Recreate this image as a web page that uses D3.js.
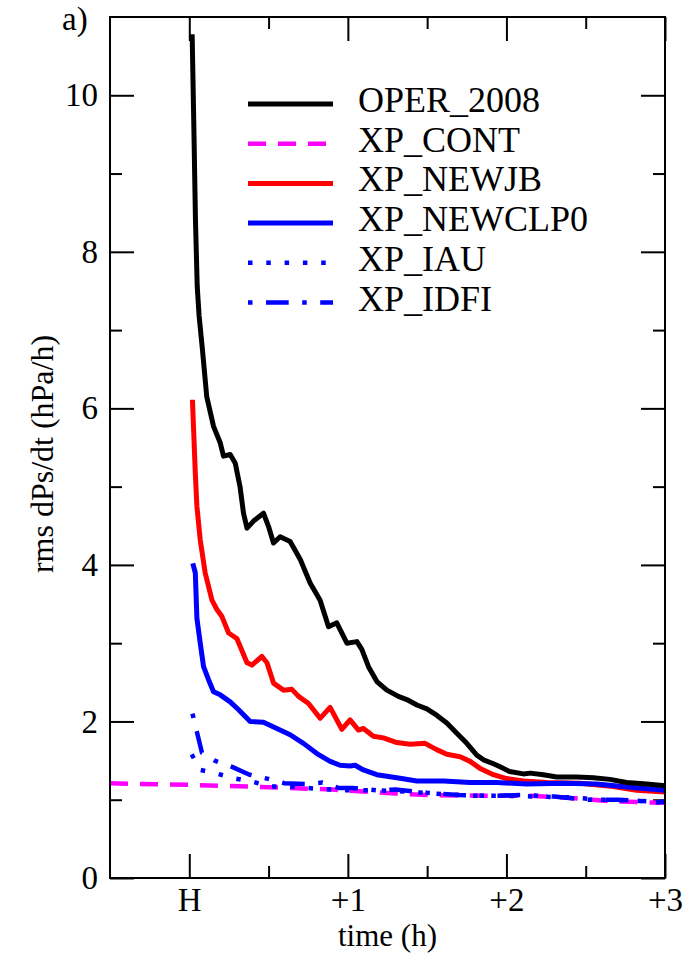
<!DOCTYPE html>
<html>
<head>
<meta charset="utf-8">
<script src="https://cdn.jsdelivr.net/npm/d3@7.9.0/dist/d3.min.js"></script>
<style>
  body { margin: 0; background: #fff; }
  svg { display: block; font-family: "Liberation Serif", "Times New Roman", serif; }
  .tick line { stroke: #000; stroke-width: 2; }
  .tick text { font-size: 33px; fill: #000; }
</style>
</head>
<body>
<svg id="chart" width="685" height="954"></svg>
<script>
// time in hours after the analysis (H = 0), rms dPs/dt in hPa/h
const operTime = [0.018, 0.028, 0.039, 0.05, 0.062, 0.083, 0.11, 0.153, 0.195, 0.216, 0.258, 0.29, 0.32, 0.342, 0.364, 0.405, 0.468, 0.5, 0.531, 0.573, 0.636, 0.70, 0.762, 0.825, 0.878, 0.93, 0.994, 1.057, 1.088, 1.13, 1.183, 1.246, 1.319, 1.372, 1.435, 1.498, 1.56, 1.624, 1.687, 1.75, 1.813, 1.855, 1.918, 1.96, 2.02, 2.107, 2.15, 2.233, 2.317, 2.443, 2.548, 2.653, 2.758, 2.884, 3.0];
const operRms  = [10.78, 9.69, 8.41, 7.56, 7.18, 6.75, 6.15, 5.77, 5.56, 5.39, 5.41, 5.30, 5.00, 4.66, 4.47, 4.56, 4.66, 4.49, 4.28, 4.36, 4.30, 4.07, 3.77, 3.55, 3.21, 3.26, 3.00, 3.02, 2.92, 2.70, 2.51, 2.40, 2.32, 2.28, 2.21, 2.16, 2.08, 1.98, 1.85, 1.72, 1.57, 1.51, 1.46, 1.42, 1.36, 1.33, 1.34, 1.32, 1.29, 1.29, 1.28, 1.26, 1.22, 1.20, 1.18];

const contTime = [-0.5, 0, 0.5, 0.9, 1.3, 1.5, 1.9, 2.15, 2.35, 2.67, 3.0];
const contRms  = [1.21, 1.19, 1.16, 1.13, 1.08, 1.06, 1.05, 1.05, 1.03, 0.98, 0.96];

const newjbTime = [0.02, 0.038, 0.048, 0.069, 0.1, 0.143, 0.174, 0.206, 0.248, 0.3, 0.364, 0.395, 0.458, 0.49, 0.531, 0.594, 0.647, 0.689, 0.752, 0.825, 0.888, 0.962, 1.014, 1.067, 1.098, 1.161, 1.224, 1.309, 1.393, 1.487, 1.56, 1.624, 1.708, 1.771, 1.834, 1.918, 2.0, 2.107, 2.254, 2.464, 2.674, 2.821, 3.0];
const newjbRms  = [6.11, 5.17, 4.75, 4.32, 3.90, 3.55, 3.43, 3.34, 3.13, 3.06, 2.75, 2.72, 2.83, 2.75, 2.49, 2.40, 2.41, 2.32, 2.23, 2.04, 2.18, 1.90, 2.02, 1.89, 1.91, 1.81, 1.79, 1.73, 1.71, 1.72, 1.64, 1.58, 1.55, 1.49, 1.40, 1.32, 1.27, 1.24, 1.22, 1.21, 1.17, 1.12, 1.10];

const newclpTime = [0.022, 0.038, 0.048, 0.069, 0.09, 0.122, 0.153, 0.195, 0.258, 0.311, 0.384, 0.468, 0.552, 0.636, 0.72, 0.805, 0.888, 0.951, 1.014, 1.046, 1.098, 1.183, 1.309, 1.435, 1.603, 1.771, 1.939, 2.128, 2.36, 2.57, 2.78, 3.0];
const newclpRms  = [4.02, 3.90, 3.32, 3.00, 2.70, 2.53, 2.38, 2.34, 2.25, 2.15, 2.00, 1.99, 1.91, 1.83, 1.72, 1.59, 1.49, 1.44, 1.43, 1.44, 1.38, 1.32, 1.28, 1.24, 1.24, 1.22, 1.22, 1.20, 1.21, 1.20, 1.16, 1.12];

const iauTime = [0.015, 0.07, 0.18, 0.29, 0.4, 0.51, 0.62, 0.74, 0.9, 1.0, 1.2, 1.4, 1.6, 1.8, 2.0, 2.2, 2.4, 2.6, 2.8, 3.0];
const iauRms  = [1.58, 1.38, 1.33, 1.27, 1.23, 1.17, 1.17, 1.15, 1.13, 1.12, 1.12, 1.10, 1.07, 1.05, 1.05, 1.04, 1.03, 1.00, 0.99, 0.96];

const idfiTime = [0.02, 0.05, 0.08, 0.16, 0.27, 0.38, 0.49, 0.6, 0.73, 0.84, 0.94, 1.03, 1.18, 1.3, 1.5, 1.7, 1.9, 2.1, 2.3, 2.5, 2.7, 2.9, 3.0];
const idfiRms  = [2.10, 1.85, 1.60, 1.50, 1.42, 1.32, 1.27, 1.21, 1.20, 1.22, 1.15, 1.15, 1.12, 1.13, 1.09, 1.06, 1.05, 1.06, 1.04, 1.00, 1.00, 0.98, 0.97];

const xMajor = [0, 1, 2, 3];
const xMajorLabels = ['H', '+1', '+2', '+3'];
const xMinor = [0.5, 1.5, 2.5];
const yMajor = [0, 2, 4, 6, 8, 10];
const yMinor = [1, 3, 5, 7, 9];

// series, in drawing order (black ends up on top)
const series = [
  { name: 'XP_CONT',    time: contTime,   rms: contRms,   color: '#ff00ff', width: 4.5, dash: '18,12' },
  { name: 'XP_NEWJB',   time: newjbTime,  rms: newjbRms,  color: '#ff0000', width: 5,   dash: null },
  { name: 'XP_IAU',     time: iauTime,    rms: iauRms,    color: '#0000ff', width: 4.5, dash: '4.5,13.8' },
  { name: 'XP_IDFI',    time: idfiTime,   rms: idfiRms,   color: '#0000ff', width: 4.5, dash: '4.5,13.5,22.7,13.5' },
  { name: 'XP_NEWCLP0', time: newclpTime, rms: newclpRms, color: '#0000ff', width: 5,   dash: null },
  { name: 'OPER_2008',  time: operTime,   rms: operRms,   color: '#000000', width: 5,   dash: null }
];
const legendOrder = ['OPER_2008', 'XP_CONT', 'XP_NEWJB', 'XP_NEWCLP0', 'XP_IAU', 'XP_IDFI'];

const svg = d3.select('#chart');
const plotLeft = 110, plotRight = 665, plotTop = 17, plotBottom = 878;

const x = d3.scaleLinear().domain([-0.5, 3]).range([plotLeft, plotRight]);
const y = d3.scaleLinear().domain([0, 11]).range([plotBottom, plotTop]);

// ticks point inward on all four sides
function addAxis(axis, transform, cls) {
  const g = svg.append('g').attr('class', cls).attr('transform', transform).call(axis);
  g.select('.domain').remove();
  return g;
}

addAxis(d3.axisBottom(x).tickValues(xMajor).tickSize(-24).tickPadding(10)
  .tickFormat((d, i) => xMajorLabels[i]), `translate(0,${plotBottom})`, 'x-major');
addAxis(d3.axisBottom(x).tickValues(xMinor).tickSize(-12).tickFormat(''), `translate(0,${plotBottom})`, 'x-minor');
addAxis(d3.axisTop(x).tickValues(xMajor).tickSize(-24).tickFormat(''), `translate(0,${plotTop})`, 'x-top');
addAxis(d3.axisTop(x).tickValues(xMinor).tickSize(-12).tickFormat(''), `translate(0,${plotTop})`, 'x-top-minor');

addAxis(d3.axisLeft(y).tickValues(yMajor).tickSize(-24).tickPadding(12), `translate(${plotLeft},0)`, 'y-major');
addAxis(d3.axisLeft(y).tickValues(yMinor).tickSize(-12).tickFormat(''), `translate(${plotLeft},0)`, 'y-minor');
addAxis(d3.axisRight(y).tickValues(yMajor).tickSize(-24).tickFormat(''), `translate(${plotRight},0)`, 'y-right');
addAxis(d3.axisRight(y).tickValues(yMinor).tickSize(-12).tickFormat(''), `translate(${plotRight},0)`, 'y-right-minor');

svg.selectAll('.tick text').attr('font-family', 'Liberation Serif, Times New Roman, serif');

// lines
const line = d3.line().x((d) => x(d[0])).y((d) => y(d[1]));

series.forEach((s) => {
  const pts = s.time.map((t, i) => [t, s.rms[i]]);
  svg.append('path')
    .datum(pts)
    .attr('d', line)
    .attr('fill', 'none')
    .attr('stroke', s.color)
    .attr('stroke-width', s.width)
    .attr('stroke-dasharray', s.dash)
    .attr('stroke-linejoin', 'round');
});

// frame
svg.append('rect')
  .attr('x', plotLeft).attr('y', plotTop)
  .attr('width', plotRight - plotLeft).attr('height', plotBottom - plotTop)
  .attr('fill', 'none').attr('stroke', '#000').attr('stroke-width', 2);

// legend
const legend = svg.append('g');
legendOrder.forEach((name, i) => {
  const s = series.find((d) => d.name === name);
  const ly = 104 + i * 39.7;
  legend.append('line')
    .attr('x1', 248).attr('x2', 333).attr('y1', ly).attr('y2', ly)
    .attr('stroke', s.color).attr('stroke-width', s.width)
    .attr('stroke-dasharray', s.dash);
  legend.append('text')
    .attr('x', 358).attr('y', ly + 8)
    .attr('font-size', 36)
    .text(name);
});

// titles
svg.append('text')
  .attr('x', (plotLeft + plotRight) / 2).attr('y', 946)
  .attr('text-anchor', 'middle').attr('font-size', 31)
  .text('time (h)');

svg.append('text')
  .attr('transform', 'translate(53,454) rotate(-90)')
  .attr('text-anchor', 'middle').attr('font-size', 32)
  .text('rms dPs/dt (hPa/h)');

svg.append('text')
  .attr('x', 62).attr('y', 30)
  .attr('font-size', 33)
  .text('a)');
</script>
</body>
</html>
